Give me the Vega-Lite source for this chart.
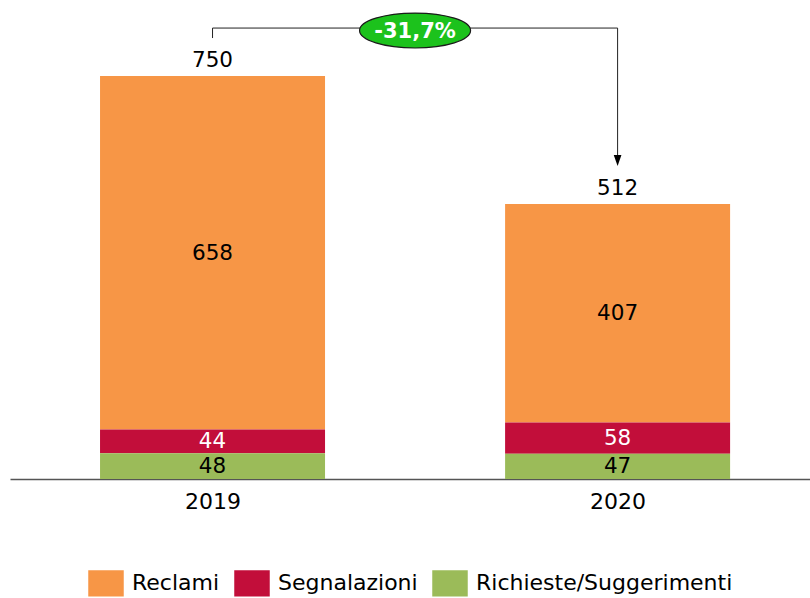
{
  "$schema": "https://vega.github.io/schema/vega-lite/v6.json",
  "width": 800,
  "height": 479,
  "autosize": {"type": "none"},
  "padding": {"left": 10, "top": 0, "right": 0, "bottom": 119},
  "background": "white",
  "config": {"view": {"stroke": null}, "font": "DejaVu Sans"},
  "data": {
    "values": [
      {"anno": 2019, "categoria": "Reclami", "ordine": 3, "valore": 658},
      {"anno": 2019, "categoria": "Segnalazioni", "ordine": 2, "valore": 44},
      {"anno": 2019, "categoria": "Richieste/Suggerimenti", "ordine": 1, "valore": 48},
      {"anno": 2020, "categoria": "Reclami", "ordine": 3, "valore": 407},
      {"anno": 2020, "categoria": "Segnalazioni", "ordine": 2, "valore": 58},
      {"anno": 2020, "categoria": "Richieste/Suggerimenti", "ordine": 1, "valore": 47}
    ]
  },
  "encoding": {
    "x": {
      "field": "anno", "type": "quantitative",
      "scale": {"domain": [2018.5, 2020.475], "nice": false, "zero": false, "padding": 0},
      "axis": {"values": [2019, 2020], "format": "d", "title": null, "grid": false, "ticks": false, "labelPadding": 12, "labelFontSize": 22, "labelFont": "DejaVu Sans", "labelColor": "#000000", "domainColor": "#555555", "domainWidth": 1.5, "labelFlush": false}
    }
  },
  "layer": [
    {
      "mark": {"type": "bar", "size": 225},
      "encoding": {
        "y": {
          "field": "valore", "type": "quantitative", "stack": "zero",
          "scale": {"domain": [0, 891.5], "nice": false},
          "axis": null
        },
        "order": {"field": "ordine", "type": "quantitative", "sort": "ascending"},
        "color": {
          "field": "categoria", "type": "nominal",
          "sort": ["Reclami", "Segnalazioni", "Richieste/Suggerimenti"],
          "scale": {"domain": ["Reclami", "Segnalazioni", "Richieste/Suggerimenti"], "range": ["#F79646", "#C20E3A", "#9BBB59"]},
          "legend": {
            "orient": "none", "legendX": 78, "legendY": 565, "direction": "horizontal", "title": null,
            "symbolType": "M-1,-0.74H1V0.74H-1Z", "symbolSize": 1260, "symbolStrokeWidth": 0,
            "labelFont": "DejaVu Sans", "labelFontSize": 22, "labelColor": "#000000", "labelLimit": 500,
            "labelOffset": 8, "columnPadding": 14, "padding": 0
          }
        }
      }
    },
    {
      "mark": {"type": "text", "fontSize": 21.5, "font": "DejaVu Sans", "baseline": "middle", "dy": 1},
      "encoding": {
        "y": {"field": "valore", "type": "quantitative", "stack": "zero", "bandPosition": 0.5, "scale": {"domain": [0, 891.5], "nice": false}, "axis": null},
        "order": {"field": "ordine", "type": "quantitative", "sort": "ascending"},
        "text": {"field": "valore"},
        "color": {
          "field": "categoria", "type": "nominal",
          "sort": ["Reclami", "Segnalazioni", "Richieste/Suggerimenti"],
          "scale": {"domain": ["Reclami", "Segnalazioni", "Richieste/Suggerimenti"], "range": ["#000000", "#ffffff", "#000000"]},
          "legend": null
        }
      }
    },
    {
      "data": {"values": [{"anno": 2019, "totale": 750}, {"anno": 2020, "totale": 512}]},
      "mark": {"type": "text", "fontSize": 21.5, "font": "DejaVu Sans", "baseline": "alphabetic", "dy": -9, "color": "#000000"},
      "encoding": {
        "y": {"field": "totale", "type": "quantitative", "scale": {"domain": [0, 891.5], "nice": false}, "axis": null},
        "text": {"field": "totale"}
      }
    },
    {
      "data": {"values": [
        {"anno": 2019, "anno2": 2019, "ya": 820.7, "yb": 839.3},
        {"anno": 2019, "anno2": 2020, "ya": 839.3, "yb": 839.3},
        {"anno": 2020, "anno2": 2020, "ya": 839.3, "yb": 598}
      ]},
      "mark": {"type": "rule", "color": "#222222", "strokeWidth": 1},
      "encoding": {
        "x2": {"field": "anno2"},
        "y": {"field": "ya", "type": "quantitative", "scale": {"domain": [0, 891.5], "nice": false}, "axis": null},
        "y2": {"field": "yb"}
      }
    },
    {
      "data": {"values": [{"anno": 2020, "y": 592.8}]},
      "mark": {"type": "point", "shape": "M-0.7,-1L0.7,-1L0,1Z", "size": 121, "filled": true, "color": "#000000", "opacity": 1},
      "encoding": {
        "y": {"field": "y", "type": "quantitative", "scale": {"domain": [0, 891.5], "nice": false}, "axis": null}
      }
    },
    {
      "data": {"values": [{"anno": 2019.5, "y": 834.7, "etichetta": "-31,7%"}]},
      "layer": [
        {
          "mark": {"type": "point", "shape": "M-1,0A1,0.315,0,1,1,1,0A1,0.315,0,1,1,-1,0Z", "size": 12321, "filled": true, "fill": "#1CC21C", "stroke": "#1a1a1a", "strokeWidth": 1.2, "opacity": 1},
          "encoding": {
            "y": {"field": "y", "type": "quantitative", "scale": {"domain": [0, 891.5], "nice": false}, "axis": null}
          }
        },
        {
          "mark": {"type": "text", "fontSize": 21, "font": "DejaVu Sans", "fontWeight": "bold", "color": "#ffffff", "baseline": "middle", "dy": 1},
          "encoding": {
            "y": {"field": "y", "type": "quantitative", "scale": {"domain": [0, 891.5], "nice": false}, "axis": null},
            "text": {"field": "etichetta"}
          }
        }
      ]
    }
  ],
  "resolve": {"scale": {"color": "independent"}}
}
